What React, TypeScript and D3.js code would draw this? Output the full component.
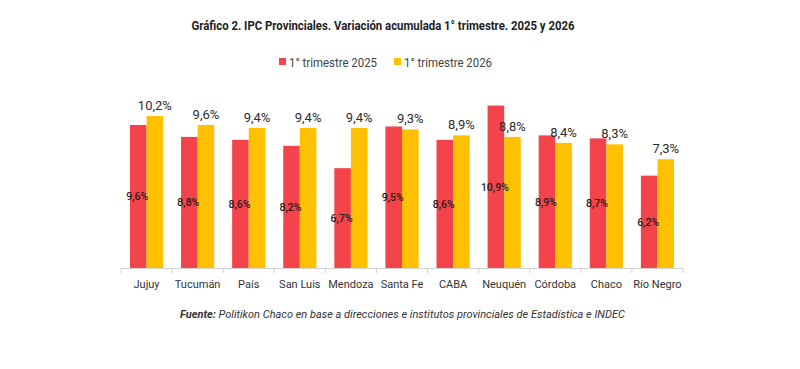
import React from 'react';
import * as d3 from 'd3';

const categories = ['Jujuy', 'Tucumán', 'País', 'San Luis', 'Mendoza', 'Santa Fe', 'CABA', 'Neuquén', 'Córdoba', 'Chaco', 'Río Negro'];
const series = ['1° trimestre 2025', '1° trimestre 2026'];
const values2025 = [9.6, 8.8, 8.6, 8.2, 6.7, 9.5, 8.6, 10.9, 8.9, 8.7, 6.2];
const values2026 = [10.2, 9.6, 9.4, 9.4, 9.4, 9.3, 8.9, 8.8, 8.4, 8.3, 7.3];
const colors = ['#F2444A', '#FFC000'];

const title = 'Gráfico 2. IPC Provinciales. Variación acumulada 1° trimestre. 2025 y 2026';

const fmt = (v: number) => v.toFixed(1).replace('.', ',') + '%';

const App = () => {
  const width = 800;
  const height = 369;
  const font = 'Roboto, "Liberation Sans", sans-serif';

  const x = d3.scaleBand().domain(categories).range([121, 683]).padding(0);
  const xs = d3.scaleBand().domain(series).range([0, x.bandwidth()]).paddingOuter(0.54).paddingInner(0);
  const y = d3.scaleLinear().domain([0, 11]).range([268, 268 - 11 * 14.9]);

  const boundaries = [...categories.map(c => x(c) as number), 683];

  return (
    <svg width={width} height={height} style={{ display: 'block', position: 'absolute', left: 0, top: 0 }} fontFamily={font}>
      <rect width={width} height={height} fill="#fff" />
      <text x={383} y={30} textAnchor="middle" fontSize={12.5} fontWeight="bold" fill="#222" textLength={383} lengthAdjust="spacingAndGlyphs">{title}</text>

      {/* legend */}
      <g fontSize={12.5} fill="#444">
        <rect x={279} y={58} width={7} height={7} fill={colors[0]} />
        <text x={289} y={66.5} textLength={88} lengthAdjust="spacingAndGlyphs">{series[0]}</text>
        <rect x={394} y={58} width={7} height={7} fill={colors[1]} />
        <text x={404} y={66.5} textLength={88} lengthAdjust="spacingAndGlyphs">{series[1]}</text>
      </g>

      {/* bars */}
      {categories.map((c, i) => {
        const x0 = x(c) as number;
        const r = x0 + (xs(series[0]) as number);
        const o = x0 + (xs(series[1]) as number);
        const w = xs.bandwidth();
        return (
          <g key={c}>
            <rect x={r} y={y(values2025[i])} width={w} height={y(0) - y(values2025[i])} fill={colors[0]} />
            <rect x={o} y={y(values2026[i])} width={w} height={y(0) - y(values2026[i])} fill={colors[1]} />
            <text x={r + w / 2 - 1} y={(y(values2025[i]) + y(0)) / 2 + 4} textAnchor="middle" fontSize={10.5} fontWeight={500} fill="#2a1a1a">{fmt(values2025[i])}</text>
            <text x={o + w / 2} y={y(values2026[i]) - 6} textAnchor="middle" fontSize={13} fill="#2d2d2d">{fmt(values2026[i])}</text>
            <text x={x0 + x.bandwidth() / 2} y={288} textAnchor="middle" fontSize={11} fill="#333">{c}</text>
          </g>
        );
      })}

      {/* axis */}
      <line x1={121} x2={683} y1={268.5} y2={268.5} stroke="#d0d0d0" />
      {boundaries.map((b, i) => (
        <line key={i} x1={b} x2={b} y1={268} y2={273} stroke="#d0d0d0" />
      ))}

      <text x={180} y={318} fontSize={10.5} fontStyle="italic" fill="#333" textLength={445} lengthAdjust="spacingAndGlyphs">
        <tspan fontWeight="bold">Fuente:</tspan> Politikon Chaco en base a direcciones e institutos provinciales de Estadística e INDEC
      </text>
    </svg>
  );
};

export default App;
